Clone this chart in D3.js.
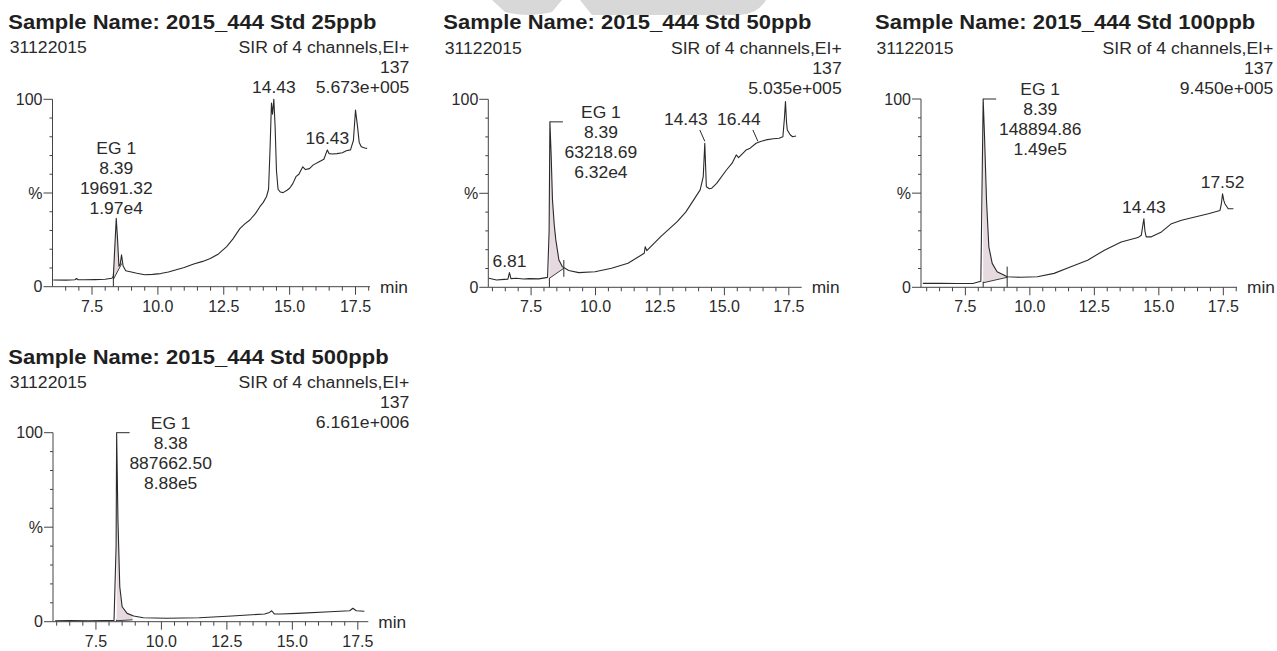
<!DOCTYPE html>
<html>
<head>
<meta charset="utf-8">
<script src="https://cdn.jsdelivr.net/npm/d3@7"></script>
<style>
  body { margin: 0; background: #fff; }
  svg { display: block; font-family: "Liberation Sans", Arial, sans-serif; }
</style>
</head>
<body>
<svg id="chart" width="1277" height="651"></svg>
<script>
// ---- data ----
const sampleNames = ["2015_444 Std 25ppb", "2015_444 Std 50ppb", "2015_444 Std 100ppb", "2015_444 Std 500ppb"];
const runDate = "31122015";
const channelText = "SIR of 4 channels,EI+";
const massText = "137";
const maxIntensity = ["5.673e+005", "5.035e+005", "9.450e+005", "6.161e+006"];
const timeRanges = [[6.0, 18.05], [5.84, 18.0], [5.78, 18.03], [5.86, 17.9]];
const yTickLabels = [[0, "0"], [50, "%"], [100, "100"]];

// retention time (min), intensity (%)
const trace25 = [[6.03,3.6],[6.5,3.5],[6.85,3.7],[6.91,4.4],[6.97,3.7],[7.2,3.7],[7.6,3.8],[8.0,4.0],[8.25,4.5],[8.31,5.5],[8.36,20],[8.42,36.5],[8.47,25],[8.52,11],[8.57,12],[8.62,17],[8.68,11],[8.78,8.5],[8.95,8.0],[9.2,7.2],[9.5,6.4],[9.8,6.6],[10.1,7.0],[10.4,7.8],[10.73,9.2],[11.0,10.2],[11.36,12.1],[11.7,13.5],[11.99,15.1],[12.3,17.5],[12.61,21.4],[12.85,25.5],[13.11,31],[13.3,33.5],[13.49,35.6],[13.7,39],[13.87,42.7],[14.0,45],[14.12,48],[14.2,52],[14.26,75],[14.31,98],[14.35,92],[14.4,100],[14.45,85],[14.5,62],[14.56,52],[14.65,50.5],[14.75,50.2],[14.9,51.5],[15.0,52.5],[15.12,55],[15.24,58.7],[15.35,60],[15.5,64],[15.6,62.5],[15.75,63],[15.9,65],[16.12,66.7],[16.3,68],[16.43,73],[16.5,71],[16.62,70.8],[16.8,71],[17.0,71.5],[17.15,72.5],[17.31,73],[17.42,78],[17.5,94.3],[17.58,85],[17.64,77],[17.72,74.7],[17.85,74],[17.94,73.8]];
const trace50 = [[5.86,4.8],[6.16,3.9],[6.45,4.2],[6.6,4.3],[6.66,7.8],[6.72,4.6],[6.93,4.8],[7.2,4.4],[7.44,4.6],[7.8,4.5],[8.14,5.3],[8.2,30],[8.23,88],[8.28,70],[8.33,46.5],[8.4,33],[8.46,25.2],[8.58,14.5],[8.71,11],[8.96,8.9],[9.35,7.8],[9.98,8.3],[10.62,10.1],[11.26,12.8],[11.89,18.1],[11.93,21.6],[11.99,19.5],[12.53,27],[13.17,34.9],[13.5,40],[13.81,46.5],[14.06,51.8],[14.18,58.9],[14.24,76.6],[14.3,53.5],[14.42,52.4],[14.51,52.7],[14.7,55.3],[15.08,62.4],[15.3,66],[15.46,70.4],[15.55,69],[15.84,73],[16.0,74],[16.23,76.6],[16.4,77.5],[16.61,78.4],[16.9,79],[17.12,79.3],[17.27,80.1],[17.33,90],[17.37,98.8],[17.41,88],[17.44,83.7],[17.56,81],[17.65,80.1],[17.78,80.5]];
const trace100 = [[5.85,2.1],[6.5,2.1],[7.2,2.0],[7.82,2.1],[8.1,3.2],[8.19,100],[8.24,81.3],[8.32,46.1],[8.41,21.5],[8.54,12.7],[8.73,8.3],[8.99,6.5],[9.12,5.6],[9.64,5.3],[10.29,5.6],[10.94,7.4],[11.59,10.9],[12.24,14.4],[12.89,19.7],[13.54,24.1],[14.19,26.4],[14.32,27.6],[14.38,33],[14.42,36.4],[14.46,30],[14.51,26.8],[14.71,26.8],[15.1,29.4],[15.49,33.8],[15.88,35.6],[16.4,37.3],[16.92,39.1],[17.37,40.8],[17.42,44],[17.47,49.6],[17.52,46],[17.56,44.4],[17.69,41.7],[17.89,41.7]];
const trace500 = [[5.94,0.5],[6.5,0.6],[7.2,0.5],[7.8,0.6],[8.19,0.6],[8.27,40],[8.29,100],[8.34,53.8],[8.41,18.5],[8.5,7.9],[8.69,4.4],[8.94,3.0],[9.31,2.1],[10.19,1.8],[11.44,2.1],[12.69,3.0],[13.94,4.1],[14.13,4.9],[14.21,5.8],[14.31,4.1],[14.56,4.1],[15.19,4.4],[16.44,5.3],[17.19,5.8],[17.31,7.1],[17.44,5.8],[17.75,5.5]];
const traces = [trace25, trace50, trace100, trace500];

// EG 1 peak report
const eg1Times = ["8.39", "8.39", "8.39", "8.38"];
const eg1Areas = ["19691.32", "63218.69", "148894.86", "887662.50"];
const eg1Short = ["1.97e4", "6.32e4", "1.49e5", "8.88e5"];
const integStart = [8.31, 8.21, 8.19, 8.29];
const integEnd = [8.63, 8.77, 9.12, 8.9];
const integBase = [[3.9, 12.4], [4.8, 10.1], [2.4, 5.3], [0.5, 1.0]];
const integStartTick = [[0, 7], [0, 5], [0, 3], [0, 1]];
const integEndTick = [null, [5.6, 14.5], [0, 11], null];

// other labelled peaks: [label, time, intensity]
const otherPeaks = [
  [["14.43", 14.4, 100], ["16.43", 16.43, 73]],
  [["6.81", 6.66, 7.8], ["14.43", 14.24, 76.6], ["16.44", 16.3, 76.6]],
  [["14.43", 14.42, 36.4], ["17.52", 17.47, 49.6]],
  []
];

// ---- layout ----
const panels = [
  { left: 8.3, right: 409.3, x0: 52.5, x1: 370, yTop: 99.3, yBase: 286.7, egDx: 0 },
  { left: 443.3, right: 841.7, x0: 488.3, x1: 801.7, yTop: 99.3, yBase: 287.3, egDx: 51 },
  { left: 875, right: 1273.3, x0: 921, x1: 1237, yTop: 99, yBase: 287.3, egDx: 57 },
  { left: 8.3, right: 409.3, x0: 53, x1: 368.3, yTop: 432.7, yBase: 621.7, egDx: 54 }
];
const leaderPeaks = { "1-1": true, "1-2": true };

const ink = "#2a2a2a";
const svg = d3.select("#chart");

// scanned text is a touch wider than the font
function stretch(sel, k) {
  sel.each(function () {
    const w = this.getComputedTextLength();
    d3.select(this).attr("textLength", w * k).attr("lengthAdjust", "spacingAndGlyphs");
  });
}

// faint watermark at the top
svg.append("path")
  .attr("d", "M492,0 L562,0 L552,12 Q530,18 505,12 Z M580,0 L766,0 Q758,14 740,15 L592,15 Z")
  .attr("fill", "#d8d8d8");

function valueAt(trace, t) {
  for (let i = 1; i < trace.length; i++) {
    if (trace[i][0] >= t) {
      const [ta, va] = trace[i - 1], [tb, vb] = trace[i];
      return va + (vb - va) * (t - ta) / (tb - ta);
    }
  }
  return trace[trace.length - 1][1];
}

function drawPanel(i) {
  const p = panels[i];
  const data = traces[i];
  const g = svg.append("g");
  const x = d3.scaleLinear().domain(timeRanges[i]).range([p.x0, p.x1]);
  const y = d3.scaleLinear().domain([0, 100]).range([p.yBase, p.yTop]);

  // header text
  g.append("text").attr("x", p.left).attr("y", p.yBase - 258.2)
    .attr("font-size", 20).attr("font-weight", "bold").attr("fill", "#1f1f1f")
    .text("Sample Name: " + sampleNames[i]).call(stretch, 1.1);
  g.append("text").attr("x", p.left + 1.5).attr("y", p.yBase - 233.4)
    .attr("font-size", 16).attr("fill", ink).text(runDate).call(stretch, 1.1);
  [channelText, massText, maxIntensity[i]].forEach((s, k) => {
    g.append("text").attr("x", p.right).attr("y", p.yBase - 233.4 + k * 20)
      .attr("text-anchor", "end").attr("font-size", 16).attr("fill", ink)
      .text(s).call(stretch, 1.1);
  });

  // integration shading of EG 1
  const s0 = integStart[i], s1 = integEnd[i];
  const [b0, b1] = integBase[i];
  const base = t => b0 + (b1 - b0) * (t - s0) / (s1 - s0);
  const inside = [[s0, valueAt(data, s0)]]
    .concat(data.filter(d => d[0] > s0 && d[0] < s1))
    .concat([[s1, valueAt(data, s1)]]);
  g.append("path").datum(inside)
    .attr("d", d3.area().x(d => x(d[0])).y0(d => y(base(d[0]))).y1(d => y(Math.max(d[1], base(d[0])))))
    .attr("fill", "#e6d9df");
  g.append("line").attr("x1", x(s0)).attr("x2", x(s1)).attr("y1", y(b0)).attr("y2", y(b1))
    .attr("stroke", ink).attr("stroke-width", 0.9);
  const st = integStartTick[i];
  g.append("line").attr("x1", x(s0)).attr("x2", x(s0)).attr("y1", y(st[0])).attr("y2", y(st[1]))
    .attr("stroke", ink).attr("stroke-width", 1);
  if (integEndTick[i]) {
    const et = integEndTick[i];
    g.append("line").attr("x1", x(s1)).attr("x2", x(s1)).attr("y1", y(et[0])).attr("y2", y(et[1]))
      .attr("stroke", ink).attr("stroke-width", 1);
  }

  // x axis
  g.append("line").attr("x1", p.x0).attr("x2", p.x1).attr("y1", p.yBase).attr("y2", p.yBase)
    .attr("stroke", "#444").attr("stroke-width", 1);
  const ticks = d3.range(Math.ceil(timeRanges[i][0] * 2) / 2 + (timeRanges[i][0] % 0.5 === 0 ? 0.5 : 0), timeRanges[i][1], 0.5);
  ticks.forEach(t => {
    const major = Math.abs(t / 2.5 - Math.round(t / 2.5)) < 1e-6;
    g.append("line").attr("x1", x(t)).attr("x2", x(t)).attr("y1", p.yBase).attr("y2", p.yBase + (major ? 8 : 4))
      .attr("stroke", "#444").attr("stroke-width", 1);
  });
  g.selectAll(".xl").data(d3.range(7.5, 18, 2.5)).join("text")
    .attr("x", d => x(d)).attr("y", p.yBase + 25).attr("text-anchor", "middle")
    .attr("font-size", 16).attr("fill", ink).text(d3.format(".1f"));
  g.append("text").attr("x", p.x1 + 10).attr("y", p.yBase + 6)
    .attr("font-size", 16).attr("fill", ink).text("min").call(stretch, 1.08);

  // y axis
  g.append("line").attr("x1", p.x0).attr("x2", p.x0).attr("y1", y(0)).attr("y2", y(100))
    .attr("stroke", "#444").attr("stroke-width", 1);
  d3.range(0, 101, 10).forEach(v => {
    const major = v % 50 === 0;
    g.append("line").attr("x1", p.x0 - (major ? 9 : 3)).attr("x2", p.x0).attr("y1", y(v)).attr("y2", y(v))
      .attr("stroke", "#444").attr("stroke-width", 1);
  });
  yTickLabels.forEach(([v, s]) => {
    g.append("text").attr("x", p.x0 - 10).attr("y", y(v) + 5.5).attr("text-anchor", "end")
      .attr("font-size", 16).attr("fill", ink).text(s);
  });

  // trace
  g.append("path").datum(data)
    .attr("d", d3.line().x(d => x(d[0])).y(d => y(d[1])))
    .attr("fill", "none").attr("stroke", ink).attr("stroke-width", 1.1).attr("stroke-linejoin", "round");

  // EG 1 label block
  const apex = data.filter(d => d[0] > 8 && d[0] < 9).reduce((a, b) => (b[1] > a[1] ? b : a));
  const ax = x(apex[0]), ay = y(apex[1]);
  const lines = ["EG 1", eg1Times[i], eg1Areas[i], eg1Short[i]];
  let firstBase;
  if (p.egDx > 0) {
    g.append("line").attr("x1", ax).attr("x2", ax + 13).attr("y1", ay).attr("y2", ay)
      .attr("stroke", ink).attr("stroke-width", 1);
    firstBase = ay - 4;
  } else {
    firstBase = ay - 4 - 3 * 20;
  }
  lines.forEach((s, k) => {
    g.append("text").attr("x", ax + p.egDx).attr("y", firstBase + k * 20)
      .attr("text-anchor", "middle").attr("font-size", 16).attr("fill", ink)
      .text(s).call(stretch, 1.09);
  });

  // other peak labels
  otherPeaks[i].forEach(([s, t, v], k) => {
    const px = x(t), py = y(v);
    if (leaderPeaks[i + "-" + k]) {
      const lx = px - 19, ly = py - 18.3;
      g.append("path").attr("d", d3.line()([[lx + 14, ly + 5], [px, py - 2]]))
        .attr("fill", "none").attr("stroke", ink).attr("stroke-width", 1);
      g.append("text").attr("x", lx).attr("y", ly).attr("text-anchor", "middle")
        .attr("font-size", 16).attr("fill", ink).text(s).call(stretch, 1.09);
    } else {
      g.append("text").attr("x", px).attr("y", py - 6).attr("text-anchor", "middle")
        .attr("font-size", 16).attr("fill", ink).text(s).call(stretch, 1.09);
    }
  });
}

panels.forEach((p, i) => drawPanel(i));
</script>
</body>
</html>
